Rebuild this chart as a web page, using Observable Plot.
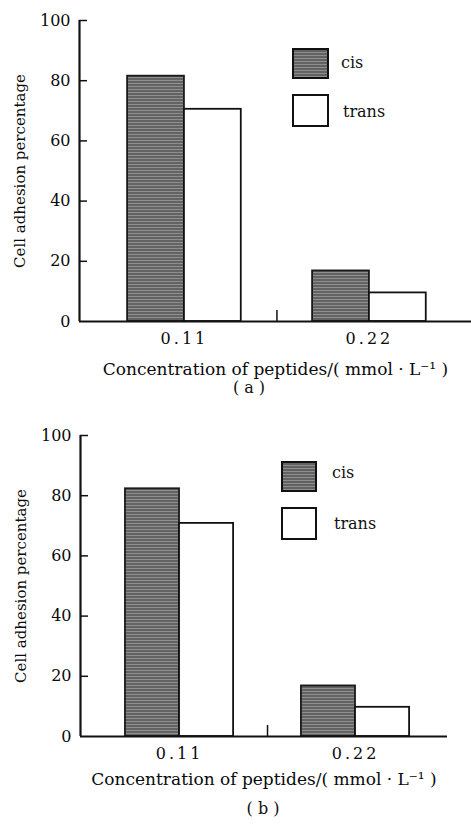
<!DOCTYPE html>
<html><head><meta charset="utf-8">
<script src="https://cdn.jsdelivr.net/npm/d3@7"></script>
<script src="https://cdn.jsdelivr.net/npm/@observablehq/plot@0.6"></script>
<style>
html,body{margin:0;padding:0;background:#fff;}
#root{position:relative;width:471px;height:824px;overflow:hidden;font-family:"DejaVu Serif",serif;color:#111;}
.panel{position:absolute;left:0;width:471px;}
.sw{position:absolute;box-sizing:border-box;border:2px solid #111;}
.sw.cis{background:repeating-linear-gradient(to bottom,#626262 0px,#626262 2px,#8e8e8e 2px,#8e8e8e 3px);}
.sw.trans{background:#fff;}
.lt{position:absolute;font-size:16px;line-height:16px;white-space:nowrap;}
.cap{position:absolute;font-size:16px;line-height:16px;transform:translateX(-50%);white-space:nowrap;}
</style></head><body><div id="root"></div>
<script>
// ---- data ----
const concentrations = [0.11, 0.22];
const concentrationLabels = ["0.11", "0.22"];
const seriesNames = ["cis", "trans"];
const cisA = [81.5, 16.8];
const transA = [70.5, 9.5];
const cisB = [82.3, 16.8];
const transB = [70.8, 9.7];
const yTicks = [0, 20, 40, 60, 80, 100];
const yLabel = "Cell adhesion percentage";
const xLabel = "Concentration of peptides/( mmol · L⁻¹ )";
const captions = ["( a )", "( b )"];

// ---- layout / style config ----
const panels = [
  {id: "pa", top: 0, height: 410, ml: 79, mr: 0, mt: 20, mb: 89, xDomain: [0.0476, 0.2807], cis: cisA, trans: transA,
   xLabelOffset: 53, legend: {sx: 292, cisY: 48, transY: 94, sw: 37, shC: 31, shT: 33, tx: 341, cisTy: 55, transTy: 104},
   cap: {x: 249, y: 380}},
  {id: "pb", top: 410, height: 414, ml: 80, mr: 24, mt: 25, mb: 88, xDomain: [0.0481, 0.2775], cis: cisB, trans: transB,
   xLabelOffset: 48, legend: {sx: 281, cisY: 51, transY: 97, sw: 36, shC: 31, shT: 33, tx: 332, cisTy: 55, transTy: 106},
   cap: {x: 263, y: 391}}
];
const barW = 0.0338;

const root = document.getElementById("root");

panels.forEach((cfg, pi) => {
  const rows = concentrations.flatMap((c, i) => [
    {conc: c, series: seriesNames[0], value: cfg.cis[i]},
    {conc: c, series: seriesNames[1], value: cfg.trans[i]}
  ]);
  const fw = 471 - cfg.ml - cfg.mr;
  const fh = cfg.height - cfg.mt - cfg.mb;
  const mid = (concentrations[0] + concentrations[1]) / 2;
  const svg = Plot.plot({
    width: 471, height: cfg.height,
    marginLeft: cfg.ml, marginRight: cfg.mr, marginTop: cfg.mt, marginBottom: cfg.mb,
    style: {fontFamily: '"DejaVu Serif", serif', fontSize: "16px", color: "#0a0a0a", background: "transparent", overflow: "visible"},
    x: {type: "linear", domain: cfg.xDomain},
    y: {domain: [0, 100]},
    marks: [
      Plot.rect(rows.filter(d => d.series === "cis"), {x1: d => d.conc - barW, x2: d => d.conc, y1: 0, y2: "value",
        fill: `url(#${cfg.id}-hatch)`, stroke: "#1a1a1a", strokeWidth: 1.8}),
      Plot.rect(rows.filter(d => d.series === "trans"), {x1: d => d.conc, x2: d => d.conc + barW, y1: 0, y2: "value",
        fill: "white", stroke: "#111", strokeWidth: 1.8}),
      Plot.ruleY([0], {stroke: "#111", strokeWidth: 2.2}),
      Plot.ruleX([cfg.xDomain[0]], {stroke: "#111", strokeWidth: 2.2}),
      Plot.tickY(yTicks.slice(1), {y: d => d, insetRight: fw - 8, stroke: "#111", strokeWidth: 1.5}),
      Plot.tickX([mid], {x: d => d, insetTop: fh - 11, stroke: "#111", strokeWidth: 1.5}),
      Plot.axisY(yTicks, {tickSize: 0, tickPadding: 9, label: yLabel, labelAnchor: "center", labelArrow: "none", labelOffset: 65, fontSize: 16}),
      Plot.axisX(concentrations, {tickSize: 0, tickPadding: 11, tickFormat: (d, i) => concentrationLabels[i],
        label: xLabel, labelAnchor: "center", labelArrow: "none", labelOffset: cfg.xLabelOffset, fontSize: 16})
    ]
  });
  // hatch pattern for the cis bars
  const ns = "http://www.w3.org/2000/svg";
  const defs = document.createElementNS(ns, "defs");
  defs.innerHTML = `<pattern id="${cfg.id}-hatch" patternUnits="userSpaceOnUse" width="6" height="3">
     <rect width="6" height="3" fill="#636363"></rect><rect y="2" width="6" height="1" fill="#8f8f8f"></rect></pattern>`;
  svg.insertBefore(defs, svg.firstChild);
  svg.querySelectorAll('g[aria-label="x-axis tick label"] text').forEach(t => t.setAttribute("letter-spacing", "3"));
  svg.querySelectorAll('g[aria-label="x-axis label"] text').forEach(t => t.setAttribute("font-size", "17"));
  svg.querySelectorAll('g[aria-label="y-axis label"] text').forEach(t => t.setAttribute("font-size", "15"));

  const wrap = document.createElement("div");
  wrap.className = "panel";
  wrap.style.top = cfg.top + "px";
  wrap.style.height = cfg.height + "px";
  wrap.appendChild(svg);

  const L = cfg.legend;
  const sc = document.createElement("div"); sc.className = "sw cis";
  Object.assign(sc.style, {left: L.sx + "px", top: L.cisY + "px", width: L.sw + "px", height: L.shC + "px"});
  const st = document.createElement("div"); st.className = "sw trans";
  Object.assign(st.style, {left: L.sx + "px", top: L.transY + "px", width: L.sw + "px", height: L.shT + "px"});
  const tc = document.createElement("div"); tc.className = "lt"; tc.textContent = seriesNames[0];
  Object.assign(tc.style, {left: L.tx + "px", top: L.cisTy + "px"});
  const tt = document.createElement("div"); tt.className = "lt"; tt.textContent = seriesNames[1];
  Object.assign(tt.style, {left: (L.tx + 2) + "px", top: L.transTy + "px"});
  const cap = document.createElement("div"); cap.className = "cap"; cap.textContent = captions[pi];
  Object.assign(cap.style, {left: cfg.cap.x + "px", top: cfg.cap.y + "px"});
  [sc, st, tc, tt, cap].forEach(e => wrap.appendChild(e));
  root.appendChild(wrap);
});
</script></body></html>
